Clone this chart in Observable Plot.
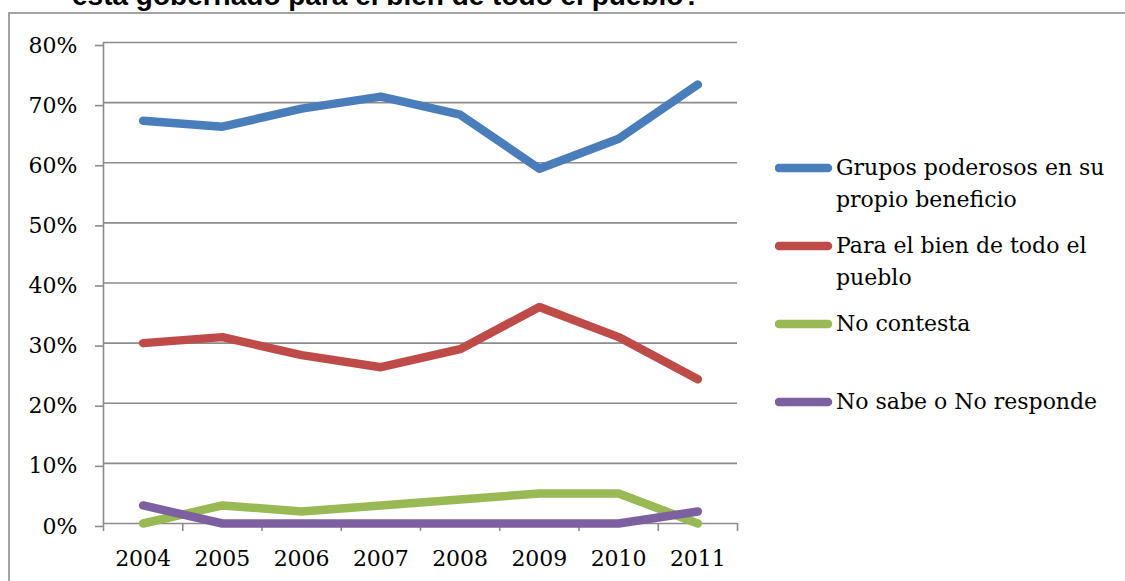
<!DOCTYPE html>
<html>
<head>
<meta charset="utf-8">
<script src="https://cdn.jsdelivr.net/npm/d3@7"></script>
<script src="https://cdn.jsdelivr.net/npm/@observablehq/plot@0.6"></script>
<style>
  html, body { margin: 0; padding: 0; background: #fff; }
  body { width: 1125px; height: 581px; overflow: hidden; position: relative; }
  #title { position: absolute; left: 72px; top: -18px; font: bold 28px/28px "Liberation Sans", Arial, sans-serif; white-space: nowrap; color: #000; }
  #frame { position: absolute; left: 8px; top: 12px; width: 2000px; height: 2000px; border-left: 2px solid #a3a3a3; border-top: 2px solid #a3a3a3; pointer-events: none; z-index: 2; }
  #chart { position: absolute; left: 0; top: 0; z-index: 1; }
  #legend { position: absolute; left: 0; top: 0; z-index: 1; font: 22px/32px "DejaVu Serif", serif; color: #000; }
  .item { position: absolute; left: 775px; width: 340px; display: flex; align-items: flex-start; }
  .item svg { display: block; flex: none; }
  .item div { flex: none; white-space: pre; }
</style>
</head>
<body>
<div id="title"></div>
<div id="frame"></div>
<div id="chart"></div>
<div id="legend"></div>
<script>
const titleText = "está gobernado para el bien de todo el pueblo?";
const years = ["2004", "2005", "2006", "2007", "2008", "2009", "2010", "2011"];
const grupos = [67, 66, 69, 71, 68, 59, 64, 73];
const bien = [30, 31, 28, 26, 29, 36, 31, 24];
const noContesta = [0, 3, 2, 3, 4, 5, 5, 0];
const noSabe = [3, 0, 0, 0, 0, 0, 0, 2];
const seriesNames = ["Grupos poderosos en su\npropio beneficio", "Para el bien de todo el\npueblo", "No contesta", "No sabe o No responde"];
const seriesColors = ["#4a7ebb", "#be4b48", "#98b954", "#7d60a0"];
const yTicks = [0, 10, 20, 30, 40, 50, 60, 70, 80];

const seriesValues = [grupos, bien, noContesta, noSabe];
const gridColor = "#8c8c8c";
const boundaries = d3.range(years.length + 1).map(i => i - 0.5);

document.getElementById("title").textContent = titleText;

const chart = Plot.plot({
  width: 745,
  height: 581,
  marginLeft: 103,
  marginRight: 8,
  marginTop: 42,
  marginBottom: 58,
  style: { fontFamily: "DejaVu Serif", fontSize: "22px", color: "#000", background: "transparent" },
  x: { type: "linear", domain: [-0.5, years.length - 0.5] },
  y: { domain: [0, 80] },
  marks: [
    Plot.gridY(yTicks, { stroke: gridColor, strokeOpacity: 1, strokeWidth: 1.6 }),
    Plot.axisY(yTicks, { tickSize: 8, tickPadding: 18, tickFormat: d => d + "%", stroke: gridColor, strokeWidth: 1.6, fill: "#000", label: null, dy: 3, fontSize: 22 }),
    Plot.ruleX([-0.5], { y1: 0, y2: 80, stroke: gridColor, strokeWidth: 1.6 }),
    Plot.axisX(boundaries, { tickSize: 8, tickFormat: () => "", stroke: gridColor, strokeWidth: 1.6, label: null }),
    Plot.axisX(d3.range(years.length), { tickSize: 0, tickPadding: 27, tickFormat: i => years[i], fill: "#000", label: null, fontSize: 22 }),
    ...seriesValues.map((vals, s) => Plot.line(vals, {
      x: (d, i) => i,
      y: d => d,
      stroke: seriesColors[s],
      strokeWidth: 8.5,
      strokeLinecap: "round",
      strokeLinejoin: "round"
    }))
  ]
});
document.getElementById("chart").appendChild(chart);

const legend = document.getElementById("legend");
seriesNames.forEach((name, i) => {
  const item = document.createElement("div");
  item.className = "item";
  item.style.top = (152 + i * 78) + "px";
  item.innerHTML = `<svg width="61" height="32"><line x1="4" y1="16" x2="53" y2="16" stroke="${seriesColors[i]}" stroke-width="8.5" stroke-linecap="round"/></svg>`;
  const t = document.createElement("div");
  t.textContent = name;
  item.appendChild(t);
  legend.appendChild(item);
});
</script>
</body>
</html>
